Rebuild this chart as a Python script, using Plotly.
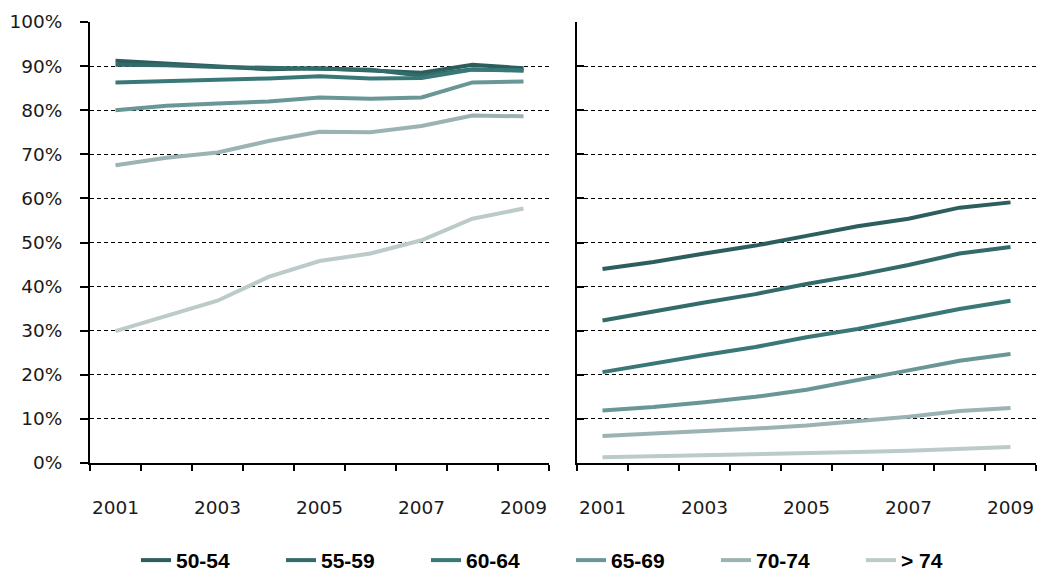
import plotly.graph_objects as go
from plotly.subplots import make_subplots

years = [2001, 2002, 2003, 2004, 2005, 2006, 2007, 2008, 2009]
groups = ["50-54", "55-59", "60-64", "65-69", "70-74", "> 74"]
colors = ["#2c5e5e", "#336b6b", "#3a7878", "#6a9696", "#9cb3b3", "#bccaca"]

# left panel values (%)
left_50_54 = [91.2, 90.5, 90.0, 89.3, 89.5, 89.0, 88.5, 90.3, 89.5]
left_55_59 = [90.3, 90.2, 89.8, 89.6, 89.6, 89.2, 87.8, 89.3, 89.0]
left_60_64 = [86.3, 86.5, 86.9, 87.2, 87.7, 87.2, 87.3, 89.2, 89.0]
left_65_69 = [80.0, 81.0, 81.5, 82.0, 82.9, 82.6, 82.9, 86.3, 86.5]
left_70_74 = [67.5, 69.2, 70.4, 73.0, 75.1, 75.0, 76.4, 78.8, 78.6]
left_gt_74 = [29.9, 33.3, 36.8, 42.2, 45.8, 47.5, 50.5, 55.4, 57.7]

# right panel values (%)
right_50_54 = [44.0, 45.6, 47.5, 49.3, 51.5, 53.7, 55.4, 57.9, 59.1]
right_55_59 = [32.3, 34.4, 36.4, 38.3, 40.6, 42.6, 44.9, 47.5, 49.0]
right_60_64 = [20.6, 22.6, 24.5, 26.3, 28.5, 30.4, 32.7, 34.9, 36.8]
right_65_69 = [11.9, 12.7, 13.8, 15.0, 16.6, 18.7, 21.0, 23.2, 24.7]
right_70_74 = [6.1, 6.6, 7.2, 7.8, 8.5, 9.4, 10.5, 11.8, 12.5]
right_gt_74 = [1.3, 1.5, 1.8, 2.0, 2.2, 2.5, 2.8, 3.2, 3.6]

left_series = [left_50_54, left_55_59, left_60_64, left_65_69, left_70_74, left_gt_74]
right_series = [right_50_54, right_55_59, right_60_64, right_65_69, right_70_74, right_gt_74]

x_labels = [2001, 2003, 2005, 2007, 2009]
y_ticks = [0, 10, 20, 30, 40, 50, 60, 70, 80, 90, 100]
y_ticktext = [f"{v}%" for v in y_ticks]

fig = make_subplots(rows=1, cols=2, horizontal_spacing=0.0296)

for i, name in enumerate(groups):
    fig.add_trace(go.Scatter(x=years, y=left_series[i], mode="lines", name=name,
                             line=dict(color=colors[i], width=4), legendgroup=name,
                             showlegend=True), row=1, col=1)
for i, name in enumerate(groups):
    fig.add_trace(go.Scatter(x=years, y=right_series[i], mode="lines", name=name,
                             line=dict(color=colors[i], width=4), legendgroup=name,
                             showlegend=False), row=1, col=2)

boundaries = [y - 0.5 for y in years] + [years[-1] + 0.5]
tickfont = dict(family="DejaVu Sans", size=18.5, color="#1a1a1a")

for c in (1, 2):
    fig.update_xaxes(range=[2000.5, 2009.5], tickmode="array", tickvals=x_labels,
                     ticktext=[str(v) for v in x_labels], ticks="", showgrid=False,
                     zeroline=False, showline=True, linecolor="black", linewidth=2,
                     tickfont=tickfont, ticklabelstandoff=27,
                     minor=dict(tickmode="array", tickvals=boundaries, ticks="outside",
                                ticklen=6, tickwidth=2, tickcolor="black", showgrid=False),
                     row=1, col=c)
    fig.update_yaxes(range=[0, 100], tickmode="array", tickvals=y_ticks,
                     showgrid=True, gridcolor="black", gridwidth=1, griddash="4px,3px",
                     zeroline=False, showline=True, linecolor="black", linewidth=2,
                     tickcolor="black", tickwidth=2, ticklen=8,
                     row=1, col=c)

fig.update_yaxes(ticks="outside", ticktext=y_ticktext, tickfont=tickfont,
                 ticklabelstandoff=14, row=1, col=1)
fig.update_yaxes(ticks="inside", ticklen=7, showticklabels=False, row=1, col=2)

fig.update_layout(
    width=1037, height=574,
    margin=dict(l=90, r=1, t=22, b=111, autoexpand=False),
    paper_bgcolor="white", plot_bgcolor="white",
    showlegend=True,
    legend=dict(orientation="h", x=0.0486, xanchor="left", y=-0.221, yanchor="middle",
                font=dict(family="Liberation Sans", size=21, color="black", weight="bold"),
                entrywidth=100, entrywidthmode="pixels", bgcolor="rgba(0,0,0,0)",
                tracegroupgap=0),
)

fig.write_html("out.html", config={"displayModeBar": False},
               post_script="document.body.style.margin='0px';")
